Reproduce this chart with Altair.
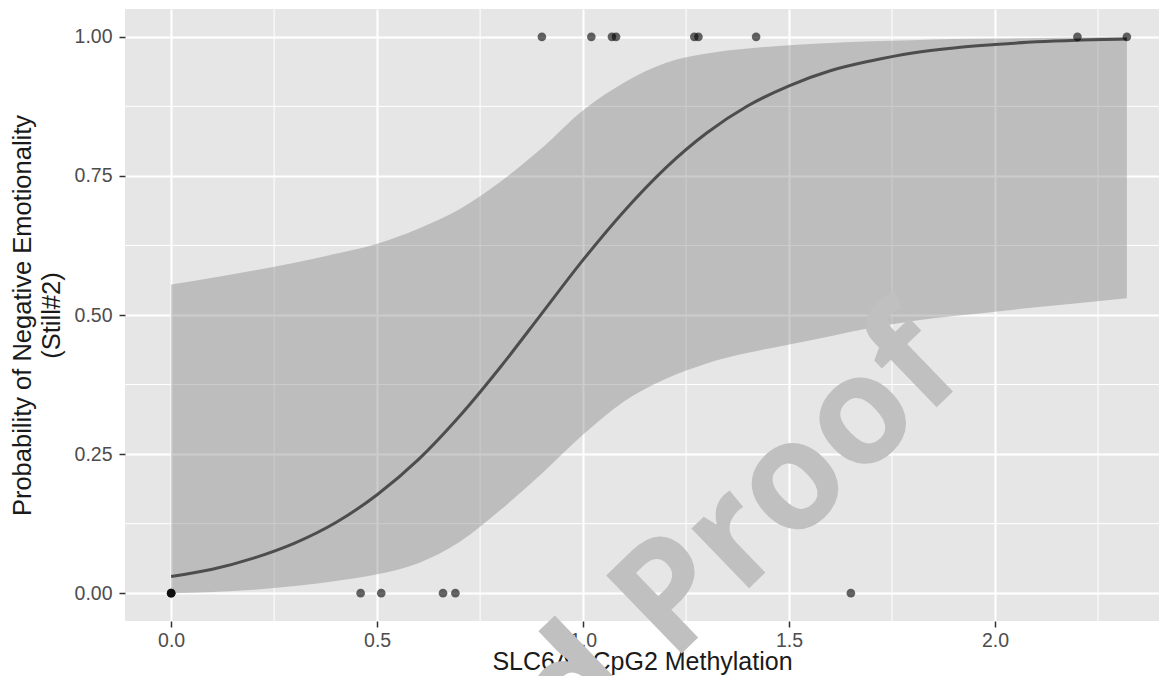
import altair as alt
import pandas as pd

# observed points (x = methylation, y = outcome 0/1)
pts_x = [0.0, 0.0, 0.0, 0.46, 0.51, 0.66, 0.69, 1.65,
         0.90, 1.02, 1.07, 1.08, 1.27, 1.28, 1.42, 2.20, 2.32]
pts_y = [0, 0, 0, 0, 0, 0, 0, 0,
         1, 1, 1, 1, 1, 1, 1, 1, 1]

# fitted curve and confidence band
curve_x = [0.0, 0.1, 0.2, 0.3, 0.4, 0.5, 0.6, 0.7, 0.8, 0.9, 1.0, 1.1,
           1.2, 1.3, 1.4, 1.5, 1.6, 1.7, 1.8, 1.9, 2.0, 2.1, 2.2, 2.32]
curve_p = [0.030, 0.043, 0.063, 0.090, 0.127, 0.177, 0.240, 0.318, 0.407,
           0.503, 0.599, 0.687, 0.764, 0.827, 0.876, 0.912, 0.939, 0.957,
           0.971, 0.980, 0.986, 0.991, 0.994, 0.996]
band_lo = [0.0, 0.002, 0.006, 0.013, 0.022, 0.034, 0.054, 0.092, 0.15, 0.215,
           0.285, 0.345, 0.385, 0.413, 0.432, 0.447, 0.462, 0.477, 0.489, 0.498,
           0.506, 0.514, 0.521, 0.53]
band_hi = [0.555, 0.567, 0.58, 0.594, 0.61, 0.628, 0.655, 0.69, 0.74, 0.80,
           0.868, 0.918, 0.953, 0.970, 0.979, 0.985, 0.989, 0.992, 0.994, 0.996,
           0.997, 0.998, 0.999, 1.0]

x_ticks = [0.0, 0.5, 1.0, 1.5, 2.0]
y_ticks = [0.0, 0.25, 0.5, 0.75, 1.0]
x_minor = [0.25, 0.75, 1.25, 1.75, 2.25]
y_minor = [0.125, 0.375, 0.625, 0.875]

x_title = "SLC6A4 CpG2 Methylation"
y_title = ["Probability of Negative Emotionality", "(Still#2)"]
watermark = ["Uncorrected Proof"]

FONT = "Liberation Sans"

xscale = alt.Scale(domain=[-0.112, 2.398], nice=False, zero=False)
yscale = alt.Scale(domain=[-0.05, 1.05], nice=False, zero=False)

common_axis = dict(grid=True, gridColor="white", gridWidth=2, domain=False,
                   tickColor="#333333", tickSize=6, tickWidth=1.5,
                   labelColor="#4d4d4d", labelFontSize=19.5, labelFont=FONT,
                   titleFont=FONT, titleFontWeight="normal",
                   titleColor="#1a1a1a", zindex=0)

xaxis = alt.Axis(values=x_ticks, format=".1f", labelPadding=4,
                 titlePadding=0, titleFontSize=25, **common_axis)
yaxis = alt.Axis(values=y_ticks, format=".2f", labelPadding=7,
                 titlePadding=10, titleFontSize=25.5, titleLineHeight=29,
                 **common_axis)


def X(f):
    return alt.X(f"{f}:Q", scale=xscale, axis=xaxis, title=x_title)


def Y(f):
    return alt.Y(f"{f}:Q", scale=yscale, axis=yaxis, title=y_title)


minor_v = alt.Chart(pd.DataFrame({"x": x_minor})).mark_rule(
    color="white", strokeWidth=1).encode(x=X("x"))
minor_h = alt.Chart(pd.DataFrame({"y": y_minor})).mark_rule(
    color="white", strokeWidth=1).encode(y=Y("y"))

cdf = pd.DataFrame({"x": curve_x, "p": curve_p, "lo": band_lo, "hi": band_hi})

band = alt.Chart(cdf).mark_area(color="#7f7f7f", opacity=0.4,
                                interpolate="monotone").encode(
    x=X("x"), y=Y("lo"), y2="hi")
line = alt.Chart(cdf).mark_line(color="#4d4d4d", strokeWidth=3,
                                interpolate="monotone").encode(
    x=X("x"), y=Y("p"))

pts = alt.Chart(pd.DataFrame({"x": pts_x, "y": pts_y})).mark_circle(
    color="black", opacity=0.6, size=75).encode(x=X("x"), y=Y("y"))

wm = alt.Chart(pd.DataFrame({"x": [1.934], "y": [0.3885], "t": watermark})).mark_text(
    align="right", baseline="alphabetic", angle=316, fontSize=152,
    font="Open Sans", fontWeight="bold", color="#c0c0c0").encode(
    x=X("x"), y=Y("y"), text="t:N")

chart = alt.layer(minor_v, minor_h, band, line, pts, wm).properties(
    width=1034, height=612,
    autosize=alt.AutoSizeParams(type="none"),
    padding={"left": 117, "top": 1, "right": 0, "bottom": 55},
).configure_view(fill="#e6e6e6", strokeWidth=0)

chart.save("out.html", embed_options={"renderer": "svg", "actions": False})
